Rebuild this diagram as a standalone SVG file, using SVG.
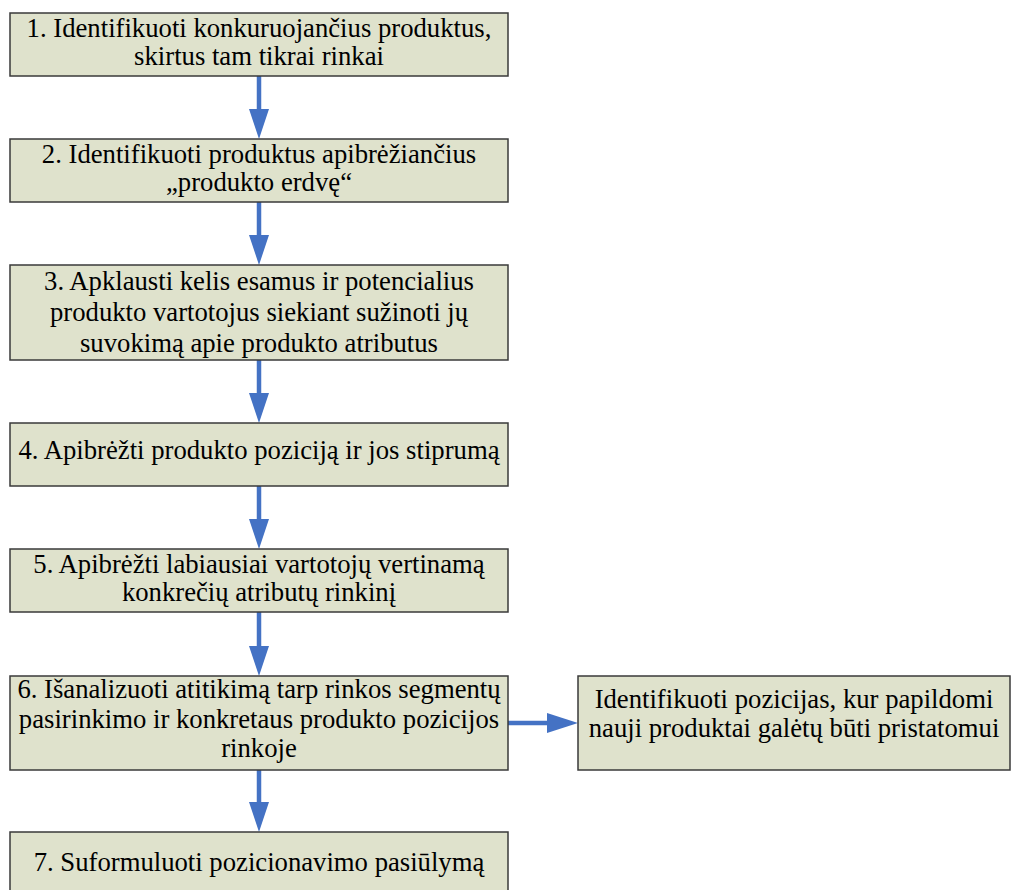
<svg xmlns="http://www.w3.org/2000/svg" width="1012" height="890" viewBox="0 0 1012 890">
<style>
.box{fill:#dfe2cc;stroke:#3a3a3a;stroke-width:1.5}
.t{font-size:26.7px;fill:#000;text-anchor:middle}
.c{stroke:#4472c4;stroke-width:4.5;fill:none}
.h{fill:#4472c4}
</style>
<rect width="1012" height="890" fill="#fff"/>
<g id="connectors">
<line class="c" x1="259" y1="76" x2="259" y2="112"/><polygon class="h" points="249,109 269,109 259,139"/>
<line class="c" x1="259" y1="202" x2="259" y2="238"/><polygon class="h" points="249,235 269,235 259,265"/>
<line class="c" x1="259" y1="360" x2="259" y2="396"/><polygon class="h" points="249,393 269,393 259,423"/>
<line class="c" x1="259" y1="486" x2="259" y2="522"/><polygon class="h" points="249,519 269,519 259,549"/>
<line class="c" x1="259" y1="612" x2="259" y2="649"/><polygon class="h" points="249,646 269,646 259,676"/>
<line class="c" x1="259" y1="770" x2="259" y2="805"/><polygon class="h" points="249,802 269,802 259,832"/>
<line class="c" x1="508" y1="723" x2="551" y2="723"/><polygon class="h" points="547,713 547,733 578,723"/>
</g>
<g font-family="Liberation Serif, Times New Roman, serif">
<g id="n1"><rect class="box" x="10" y="13" width="498" height="63"/>
<text class="t" x="259" y="37">1. Identifikuoti konkuruojančius produktus,</text>
<text class="t" x="259" y="65">skirtus tam tikrai rinkai</text></g>
<g id="n2"><rect class="box" x="10" y="139" width="498" height="63"/>
<text class="t" x="259" y="163">2. Identifikuoti produktus apibrėžiančius</text>
<text class="t" x="259" y="191">„produkto erdvę“</text></g>
<g id="n3"><rect class="box" x="10" y="265" width="498" height="95"/>
<text class="t" x="259" y="290">3. Apklausti kelis esamus ir potencialius</text>
<text class="t" x="259" y="321">produkto vartotojus siekiant sužinoti jų</text>
<text class="t" x="259" y="352">suvokimą apie produkto atributus</text></g>
<g id="n4"><rect class="box" x="10" y="423" width="498" height="63"/>
<text class="t" x="259" y="459">4. Apibrėžti produkto poziciją ir jos stiprumą</text></g>
<g id="n5"><rect class="box" x="10" y="549" width="498" height="63"/>
<text class="t" x="259" y="573">5. Apibrėžti labiausiai vartotojų vertinamą</text>
<text class="t" x="259" y="601">konkrečių atributų rinkinį</text></g>
<g id="n6"><rect class="box" x="10" y="676" width="498" height="94"/>
<text class="t" x="259" y="698">6. Išanalizuoti atitikimą tarp rinkos segmentų</text>
<text class="t" x="259" y="728">pasirinkimo ir konkretaus produkto pozicijos</text>
<text class="t" x="259" y="757">rinkoje</text></g>
<g id="n8"><rect class="box" x="578" y="676" width="432" height="94"/>
<text class="t" x="794" y="708">Identifikuoti pozicijas, kur papildomi</text>
<text class="t" x="794" y="737">nauji produktai galėtų būti pristatomui</text></g>
<g id="n7"><rect class="box" x="10" y="832" width="498" height="70"/>
<text class="t" x="259" y="871">7. Suformuluoti pozicionavimo pasiūlymą</text></g>
</g>
</svg>
